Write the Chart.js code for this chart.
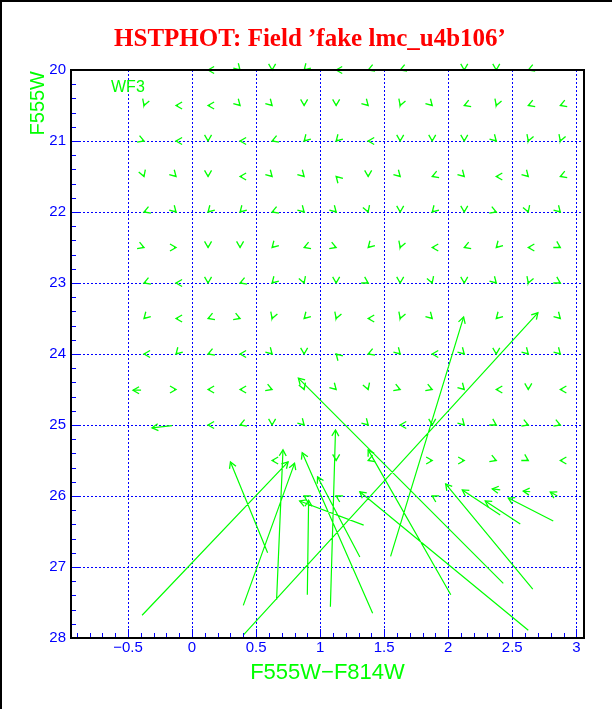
<!DOCTYPE html>
<html>
<head>
<meta charset="utf-8">
<script src="https://cdn.jsdelivr.net/npm/chart.js@4.4.1/dist/chart.umd.min.js"></script>
<style>
  html, body { margin: 0; padding: 0; background: #fff; }
</style>
</head>
<body>
<canvas id="chart" width="612" height="709"></canvas>
<script>
// axis ticks
const xTicks = [-0.5, 0, 0.5, 1, 1.5, 2, 2.5, 3];
const yTicks = [20, 21, 22, 23, 24, 25, 26, 27, 28];

// input grid of the fake stars
const gridColor = [-0.375, -0.125, 0.125, 0.375, 0.625, 0.875, 1.125, 1.375, 1.625, 1.875, 2.125, 2.375, 2.625, 2.875];
const gridMag = [20, 20.5, 21, 21.5, 22, 22.5, 23, 23.5, 24, 24.5, 25, 25.5, 26];

// small errors (input - recovered), colour part; null = no star
const errC = [
  [null, null, -0.016, 0.011, 0, -0.011, -0.016, -0.015, -0.015, null, 0, 0, -0.015, null],
  [-0.005, -0.016, -0.016, 0.011, 0.011, 0, 0, 0.011, -0.005, 0.011, -0.015, -0.005, -0.015, -0.015],
  [0.015, -0.016, 0, -0.016, -0.015, -0.011, -0.011, -0.016, 0, 0, 0, 0.011, -0.005, -0.005],
  [0.005, 0.011, 0, -0.016, 0.011, 0.011, -0.011, 0, 0.011, -0.015, 0.011, -0.016, 0.011, -0.015],
  [-0.015, 0.011, -0.011, -0.011, -0.015, 0.011, 0.011, 0.005, 0, -0.011, 0, 0.015, 0.005, 0.011],
  [0.015, 0.016, 0, 0, -0.011, -0.015, 0.015, -0.011, -0.005, -0.016, -0.015, -0.011, -0.016, 0.0135],
  [-0.015, -0.016, 0, -0.015, -0.011, 0.005, 0, 0.0135, 0, 0.005, 0, 0.011, -0.005, 0.0135],
  [-0.011, -0.016, -0.015, 0.015, -0.005, -0.011, -0.005, -0.016, -0.005, 0.011, null, -0.011, null, 0.011],
  [-0.016, -0.011, -0.015, -0.016, 0.011, 0, -0.011, -0.015, 0.011, -0.016, 0.011, 0, 0.011, 0.011],
  [null, 0.016, -0.016, -0.016, 0.015, 0.005, 0.011, 0.005, 0.015, 0.015, 0.011, -0.016, 0, -0.016],
  [null, null, -0.016, -0.015, 0, 0.011, null, 0.011, -0.016, 0, 0.011, 0.0135, 0.015, 0.015],
  [null, null, null, null, -0.016, null, 0, -0.015, null, 0.016, 0.016, 0.015, 0.0135, -0.016],
  [null, null, null, null, null, -0.016, -0.016, null, null, -0.016, null, null, null, null]
];
// small errors, magnitude part
const errM = [
  [null, null, 0, 0.02, 0.028, 0.02, 0, 0.01, 0.01, null, 0.028, 0.028, 0.01, null],
  [0.026, 0, 0, 0.02, 0.02, 0.028, 0.028, 0.02, 0.026, 0.02, 0.01, 0.026, 0.01, 0.01],
  [0.01, 0, 0.028, 0, 0.01, 0.02, 0.02, 0, 0.028, 0.028, 0.028, 0.02, 0.026, 0.026],
  [0.026, 0.02, 0.028, 0, 0.02, 0.02, -0.02, 0.028, 0.02, 0.01, 0.02, 0, 0.02, 0.01],
  [0.01, 0.02, 0.02, 0.02, 0.01, 0.02, 0.02, 0.026, 0.028, 0.02, 0.028, 0.01, 0.026, 0.02],
  [0.01, 0, 0.028, 0.028, 0.02, 0.01, 0.01, 0.02, 0.026, 0, 0.01, 0.02, 0, 0.014],
  [0.01, 0, 0.028, 0.01, 0.02, 0.026, 0.028, 0.014, 0.028, 0.026, 0.028, 0.02, 0.026, 0.014],
  [0.02, 0, 0.01, 0.01, 0.026, 0.02, 0.026, 0, 0.026, 0.02, null, 0.02, null, 0.02],
  [0, 0.02, 0.01, 0, 0.02, 0.028, -0.02, 0.01, 0.02, 0, 0.02, 0.028, 0.02, 0.02],
  [null, 0, 0, 0, 0.01, 0.026, 0.02, 0.026, 0.01, 0.01, 0.02, 0, 0.028, 0],
  [null, null, 0, 0.01, 0.028, 0.02, null, 0.02, 0, 0.028, 0.02, 0.014, 0.01, 0.01],
  [null, null, null, null, 0, null, 0.028, 0.01, null, 0, 0, 0.01, 0.014, 0],
  [null, null, null, null, null, -0.016, -0.016, null, null, -0.016, null, null, null, null]
];

// large errors: recovered (tail) -> input (head)
const longFromC = [-0.398, -0.156, -0.39, 0.40, 0.40, 0.59, 1.41, 1.08, 1.31, 1.34, 0.90, 0.66, 1.55, 2.43, 2.02, 2.66, 2.82, 2.5625, 2.406, 2.625, 2.406, 2.64, 2.852];
const longFromM = [24.51, 25.01, 27.68, 27.54, 27.96, 26.80, 27.65, 27.56, 26.86, 26.41, 27.39, 27.46, 26.85, 27.23, 27.39, 27.31, 26.352, 26.394, 26.268, 27.89, 25.915, 25.94, 26.0];
const longToC = [-0.461, -0.3125, 0.75, 0.80, 2.70, 0.30, 0.86, 1.12, 0.98, 0.84, 0.91, 0.71, 2.12, 0.83, 1.375, 1.98, 2.469, 2.289, 2.11, 1.31, 2.344, 2.586, 2.797];
const longToM = [24.51, 25.04, 25.52, 25.54, 23.42, 25.52, 25.39, 25.07, 25.73, 26.07, 26.06, 25.35, 23.48, 24.34, 25.35, 25.83, 26.028, 26.07, 25.915, 25.94, 25.90, 25.93, 25.944];

const GREEN = "#00ff00";
const BLUE = "#0000ff";

// collect all arrows as [tailC, tailM, headC, headM]
const arrows = [];
gridMag.forEach((m, r) => {
  gridColor.forEach((c, k) => {
    if (errC[r][k] === null) return;
    arrows.push([c - errC[r][k], m - errM[r][k], c, m]);
  });
});
longFromC.forEach((c, i) => {
  arrows.push([c, longFromM[i], longToC[i], longToM[i]]);
});

const lineData = [];
arrows.forEach((a) => {
  lineData.push({ x: a[0], y: a[1] });
  lineData.push({ x: a[2], y: a[3] });
  lineData.push({ x: null, y: null });
});

const pagePlugin = {
  id: "page",
  beforeDraw(chart) {
    const ctx = chart.ctx;
    ctx.save();
    ctx.fillStyle = "#fff";
    ctx.fillRect(0, 0, chart.width, chart.height);
    ctx.fillStyle = "#000";
    ctx.fillRect(0, 0, 2, chart.height);
    ctx.fillRect(0, 0, chart.width, 2);
    ctx.restore();
  },
  afterDatasetsDraw(chart) {
    const ctx = chart.ctx;
    const xs = chart.scales.x;
    const ys = chart.scales.y;
    const area = chart.chartArea;

    // arrow heads
    ctx.save();
    ctx.strokeStyle = GREEN;
    ctx.lineWidth = 1.3;
    const len = 7;
    const spread = Math.PI / 6;
    arrows.forEach((a) => {
      const x0 = xs.getPixelForValue(a[0]);
      const y0 = ys.getPixelForValue(a[1]);
      const x1 = xs.getPixelForValue(a[2]);
      const y1 = ys.getPixelForValue(a[3]);
      const ang = Math.atan2(y1 - y0, x1 - x0);
      ctx.beginPath();
      ctx.moveTo(x1 + len * Math.cos(ang + Math.PI - spread), y1 + len * Math.sin(ang + Math.PI - spread));
      ctx.lineTo(x1, y1);
      ctx.lineTo(x1 + len * Math.cos(ang + Math.PI + spread), y1 + len * Math.sin(ang + Math.PI + spread));
      ctx.stroke();
    });
    ctx.restore();

    // inward tick marks on the left and bottom axes
    ctx.save();
    ctx.strokeStyle = BLUE;
    ctx.lineWidth = 1;
    ctx.beginPath();
    for (let i = -9; i <= 30; i++) {
      const v = i / 10;
      const px = Math.round(xs.getPixelForValue(v)) + 0.5;
      const l = i % 5 === 0 ? 9 : 5;
      ctx.moveTo(px, area.bottom);
      ctx.lineTo(px, area.bottom - l);
    }
    for (let i = 0; i <= 40; i++) {
      const v = 20 + i / 5;
      const py = Math.round(ys.getPixelForValue(v)) + 0.5;
      const l = i % 5 === 0 ? 9 : 5;
      ctx.moveTo(area.left, py);
      ctx.lineTo(area.left + l, py);
    }
    ctx.stroke();
    ctx.restore();

    // frame
    ctx.save();
    ctx.strokeStyle = "#000";
    ctx.lineWidth = 2;
    ctx.strokeRect(area.left, area.top, area.right - area.left, area.bottom - area.top);
    ctx.restore();

    // y-axis title (kept at the top of the axis) and chip label
    ctx.save();
    ctx.fillStyle = GREEN;
    ctx.font = "20px 'Liberation Sans'";
    ctx.translate(38, area.top + 1);
    ctx.rotate(-Math.PI / 2);
    ctx.textAlign = "right";
    ctx.textBaseline = "middle";
    ctx.fillText("F555W", 0, 0);
    ctx.restore();

    ctx.save();
    ctx.fillStyle = GREEN;
    ctx.font = "16px 'Liberation Sans'";
    ctx.textAlign = "left";
    ctx.textBaseline = "middle";
    ctx.fillText("WF3", 111, 88);
    ctx.restore();
  },
};

new Chart(document.getElementById("chart"), {
  type: "scatter",
  data: {
    datasets: [
      {
        data: lineData,
        showLine: true,
        spanGaps: false,
        borderColor: GREEN,
        borderWidth: 1.2,
        pointRadius: 0,
        clip: false,
      },
    ],
  },
  options: {
    responsive: false,
    animation: false,
    events: [],
    layout: { padding: { left: 36, right: 28, top: 0, bottom: 0 } },
    plugins: {
      legend: { display: false },
      tooltip: { enabled: false },
      title: {
        display: true,
        text: "HSTPHOT: Field \u2019fake lmc_u4b106\u2019",
        color: "#ff0000",
        font: { family: "'Liberation Serif'", size: 25, weight: "bold" },
        padding: { top: 25, bottom: 15 },
      },
    },
    scales: {
      x: {
        type: "linear",
        min: -0.945,
        max: 3.06,
        afterBuildTicks: (s) => {
          s.ticks = xTicks.map((v) => ({ value: v }));
        },
        afterFit: (s) => {
          s.height = 71;
        },
        grid: { color: BLUE, lineWidth: 1, drawTicks: false },
        border: { display: false, dash: [2, 2] },
        ticks: {
          color: BLUE,
          font: { family: "'Liberation Sans'", size: 15 },
          padding: 1,
          maxRotation: 0,
          autoSkip: false,
          callback: (v) => String(v).replace("-", "\u2212"),
        },
        title: {
          display: true,
          text: "F555W\u2212F814W",
          color: GREEN,
          font: { family: "'Liberation Sans'", size: 22 },
          padding: { top: 0, bottom: 23 },
        },
      },
      y: {
        type: "linear",
        reverse: true,
        min: 20,
        max: 28,
        afterBuildTicks: (s) => {
          s.ticks = yTicks.map((v) => ({ value: v }));
        },
        afterFit: (s) => {
          s.width = 35;
        },
        grid: { color: BLUE, lineWidth: 1, drawTicks: false },
        border: { display: false, dash: [2, 2] },
        ticks: {
          color: BLUE,
          font: { family: "'Liberation Sans'", size: 15 },
          padding: 5,
          autoSkip: false,
        },
      },
    },
  },
  plugins: [pagePlugin],
});
</script>
</body>
</html>
